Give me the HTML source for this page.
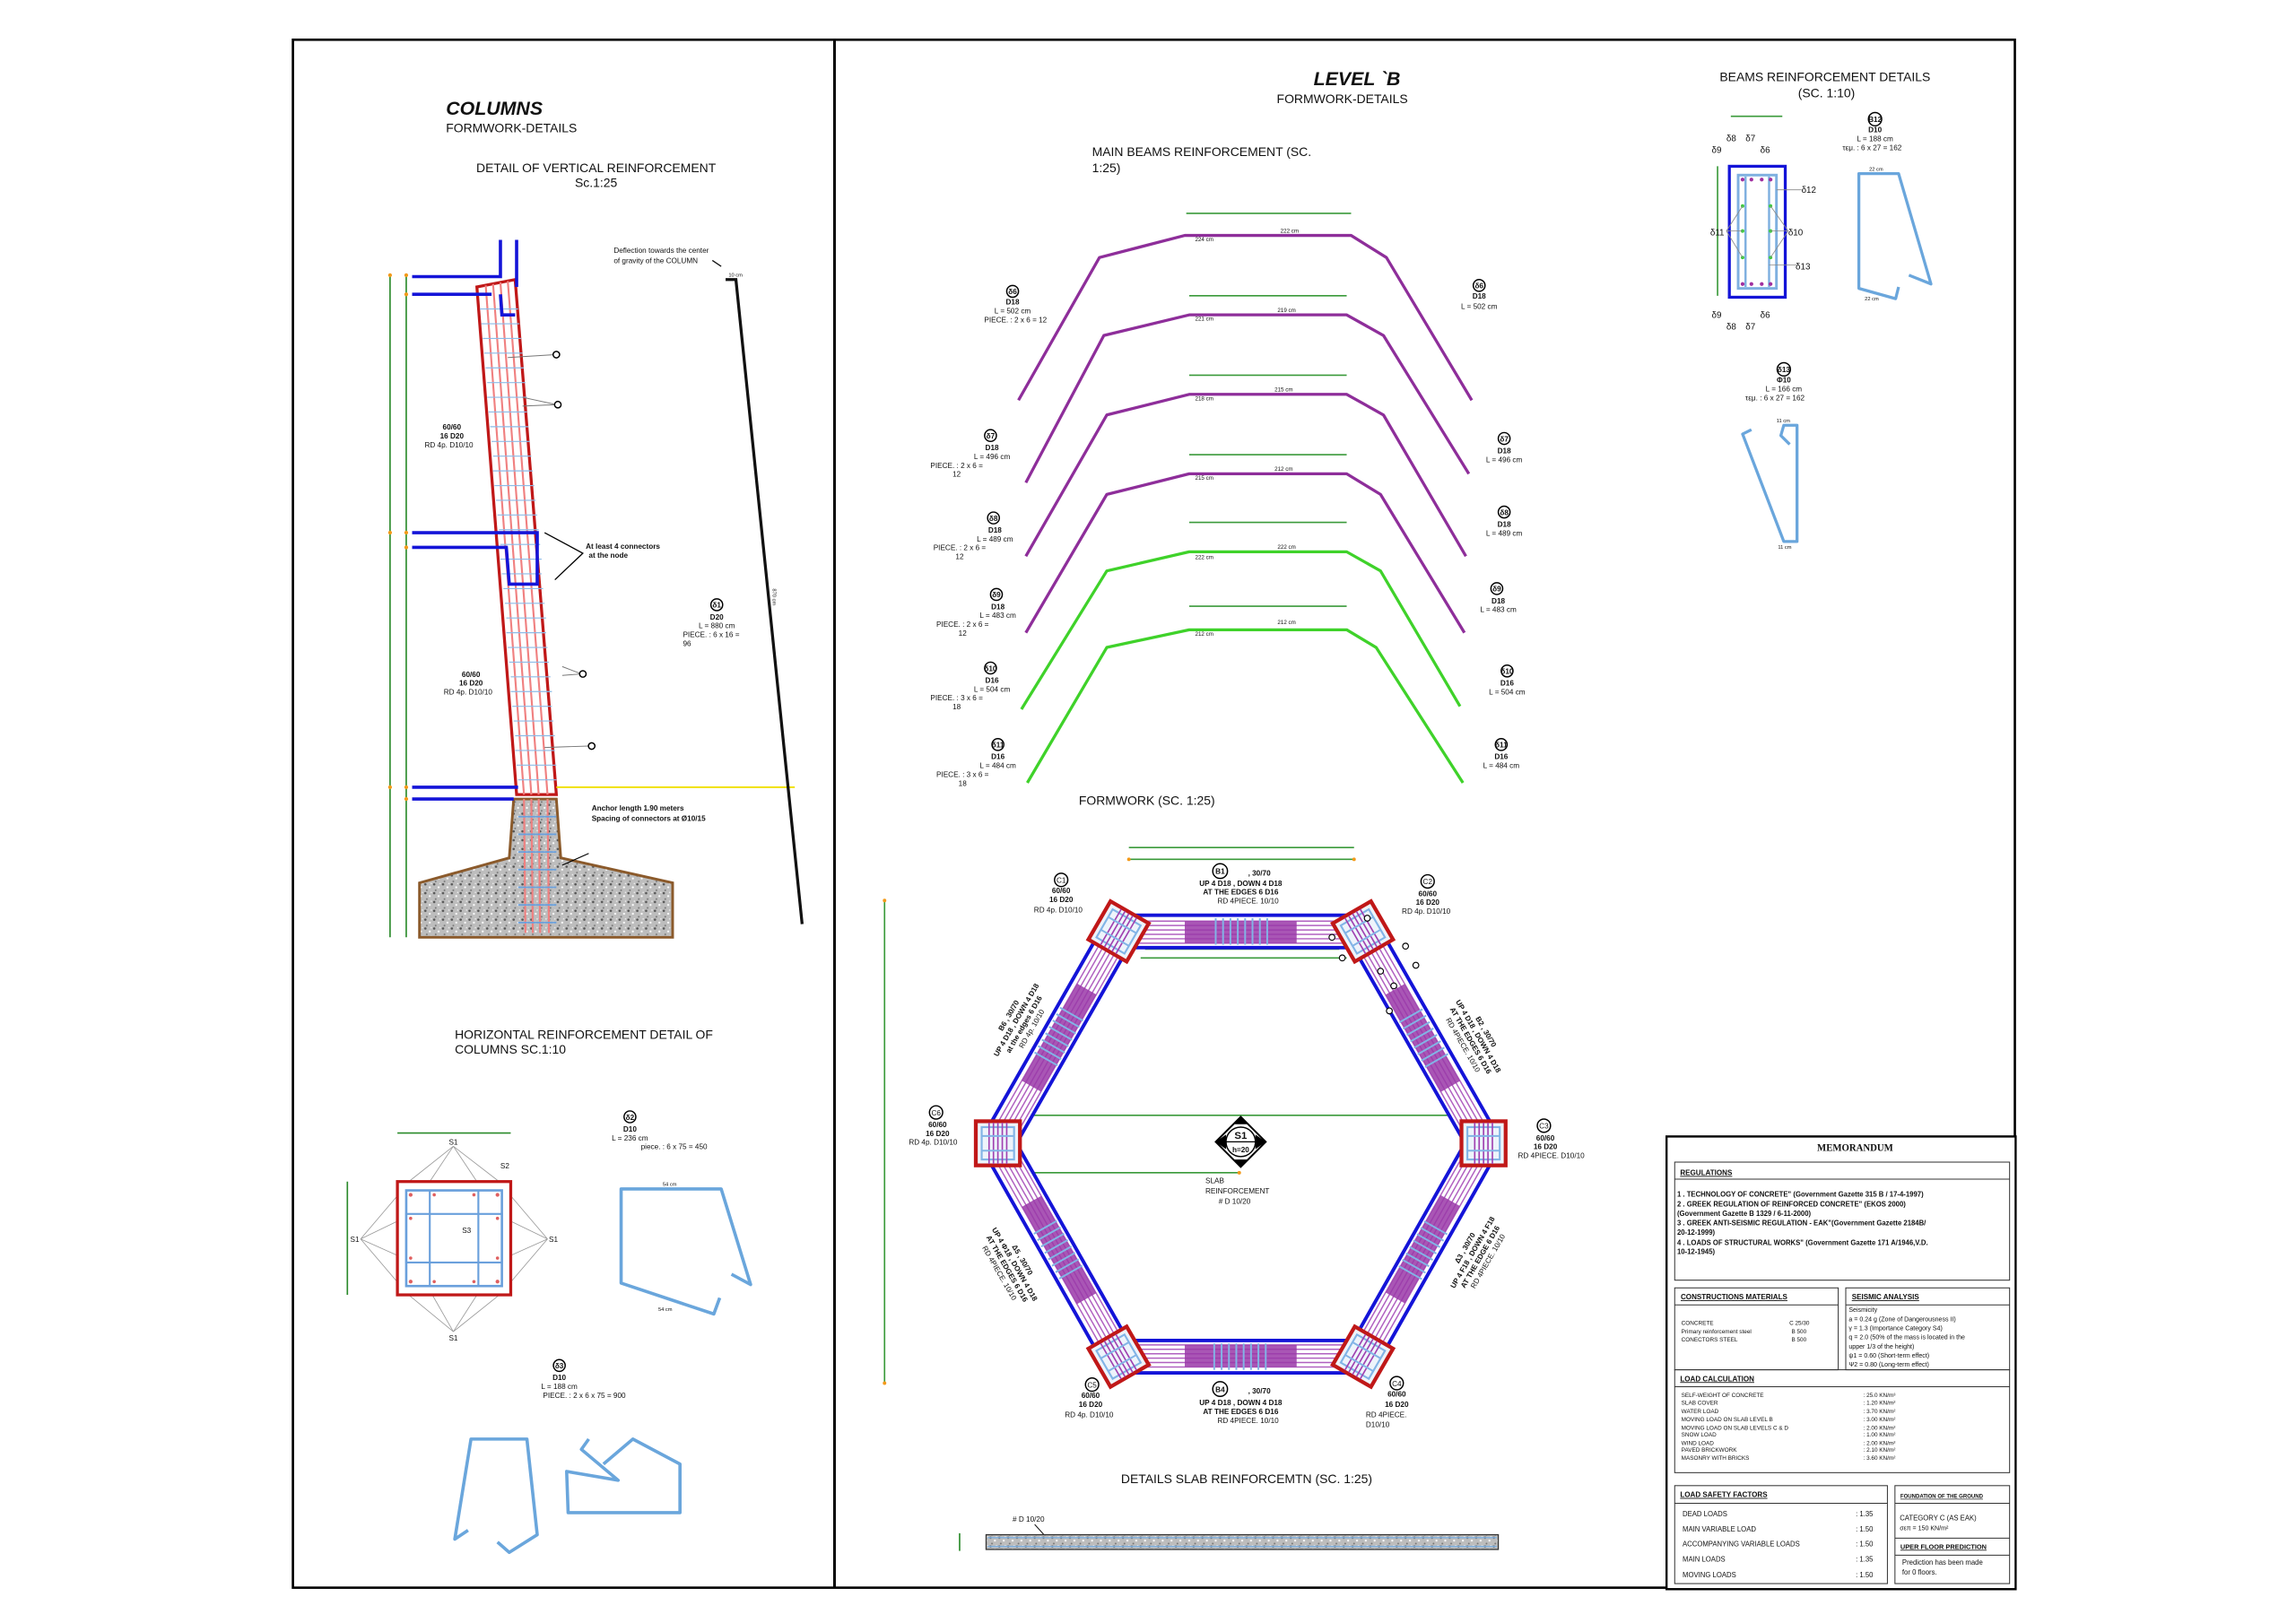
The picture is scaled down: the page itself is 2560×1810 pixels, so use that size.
<!DOCTYPE html>
<html><head><meta charset="utf-8"><style>
html,body{margin:0;padding:0;background:#fff}
svg{display:block}
text{font-family:"Liberation Sans","DejaVu Sans",sans-serif;fill:#111}
.b{font-weight:bold}
.s{font-size:5px}
.m{font-size:6.5px}
.c{text-anchor:middle}
</style></head><body>
<svg width="2560" height="1810" viewBox="0 0 1560 1103" xmlns="http://www.w3.org/2000/svg">
<defs>
<pattern id="gr" width="6" height="6" patternUnits="userSpaceOnUse">
<rect width="6" height="6" fill="#bdbdbd"/><circle cx="1" cy="1" r="0.8" fill="#555"/><circle cx="4" cy="3" r="0.7" fill="#fff"/><circle cx="2" cy="5" r="0.6" fill="#777"/><circle cx="5" cy="0.5" r="0.5" fill="#eee"/>
</pattern>
<g id="band">
<rect x="0" y="-11" width="166" height="22" fill="#fff"/>
<g stroke="#b060c0" stroke-width="0.9"><line x1="0" y1="-7" x2="166" y2="-7"/><line x1="0" y1="-4" x2="166" y2="-4"/><line x1="0" y1="-1" x2="166" y2="-1"/><line x1="0" y1="2" x2="166" y2="2"/><line x1="0" y1="5" x2="166" y2="5"/><line x1="0" y1="8" x2="166" y2="8"/></g>
<rect x="45" y="-7" width="76" height="15" fill="#9a38a8" opacity="0.85"/>
<g stroke="#82b4e6" stroke-width="1.2"><line x1="66" y1="-9" x2="66" y2="9"/><line x1="71" y1="-9" x2="71" y2="9"/><line x1="76" y1="-9" x2="76" y2="9"/><line x1="81" y1="-9" x2="81" y2="9"/><line x1="86" y1="-9" x2="86" y2="9"/><line x1="91" y1="-9" x2="91" y2="9"/><line x1="96" y1="-9" x2="96" y2="9"/><line x1="101" y1="-9" x2="101" y2="9"/></g>
<line x1="0" y1="-11" x2="166" y2="-11" stroke="#1414d8" stroke-width="2.4"/>
<line x1="0" y1="11" x2="166" y2="11" stroke="#1414d8" stroke-width="2.4"/>
</g>
<g id="col">
<rect x="-15" y="-15" width="30" height="30" fill="#eef4fb" stroke="#c01818" stroke-width="2.6"/>
<rect x="-11" y="-11" width="22" height="22" fill="none" stroke="#82b4e6" stroke-width="1.3"/>
<g stroke="#a040b0" stroke-width="1"><line x1="-6" y1="-14" x2="-6" y2="14"/><line x1="-3" y1="-14" x2="-3" y2="14"/><line x1="0" y1="-14" x2="0" y2="14"/><line x1="3" y1="-14" x2="3" y2="14"/><line x1="6" y1="-14" x2="6" y2="14"/></g>
<g stroke="#82b4e6" stroke-width="1.2"><line x1="-11" y1="-5" x2="11" y2="-5"/><line x1="-11" y1="5" x2="11" y2="5"/></g>
</g>
</defs>

<!-- frame -->
<rect x="199" y="27" width="1170" height="1052" fill="none" stroke="#000" stroke-width="1.6"/>
<line x1="567" y1="27" x2="567" y2="1079" stroke="#000" stroke-width="1.8"/>

<!-- ============ COLUMNS PANEL ============ -->
<text x="303" y="78" class="b" style="font-size:13px;font-style:italic">COLUMNS</text>
<text x="303" y="90" style="font-size:8.5px">FORMWORK-DETAILS</text>
<text x="405" y="117" class="c" style="font-size:8.5px">DETAIL OF VERTICAL REINFORCEMENT</text>
<text x="405" y="127" class="c" style="font-size:8.5px">Sc.1:25</text>

<!-- green dims -->
<g stroke="#2a8a2a" stroke-width="1"><line x1="265" y1="187" x2="265" y2="637"/><line x1="276" y1="187" x2="276" y2="637"/></g>
<g fill="#f39a1a"><circle cx="265" cy="187" r="1.3"/><circle cx="276" cy="187" r="1.3"/><circle cx="276" cy="200" r="1.3"/><circle cx="265" cy="362" r="1.3"/><circle cx="276" cy="362" r="1.3"/><circle cx="276" cy="372" r="1.3"/><circle cx="265" cy="535" r="1.3"/><circle cx="276" cy="535" r="1.3"/><circle cx="276" cy="543" r="1.3"/></g>

<!-- footing -->
<polygon points="349,543 378,543 381,583 457,600 457,637 285,637 285,600 346,583" fill="url(#gr)" stroke="#8b5a2b" stroke-width="1.8"/>
<!-- column strip -->
<polygon points="324,195 350,190 378,540 351,540" fill="#fff" stroke="#c01818" stroke-width="2"/>
<g stroke="#f08080" stroke-width="1.3"><line x1="330" y1="194" x2="356" y2="540"/><line x1="335" y1="193" x2="361" y2="540"/><line x1="340" y1="192" x2="366" y2="540"/><line x1="345" y1="191" x2="372" y2="540"/>
<line x1="356" y1="543" x2="357" y2="634"/><line x1="361" y1="543" x2="362" y2="634"/><line x1="366" y1="543" x2="367" y2="634"/><line x1="372" y1="543" x2="373" y2="634"/></g>
<g stroke="#8cbbe8" stroke-width="0.7" id="ties">
<line x1="326" y1="210" x2="352" y2="210"/><line x1="327" y1="220" x2="353" y2="220"/><line x1="328" y1="230" x2="354" y2="230"/><line x1="329" y1="240" x2="355" y2="240"/><line x1="330" y1="250" x2="356" y2="250"/><line x1="331" y1="260" x2="357" y2="260"/><line x1="331" y1="270" x2="358" y2="270"/><line x1="332" y1="280" x2="358" y2="280"/><line x1="333" y1="290" x2="359" y2="290"/><line x1="334" y1="300" x2="360" y2="300"/><line x1="335" y1="310" x2="361" y2="310"/><line x1="335" y1="320" x2="362" y2="320"/><line x1="336" y1="330" x2="363" y2="330"/><line x1="337" y1="340" x2="364" y2="340"/><line x1="338" y1="350" x2="365" y2="350"/><line x1="339" y1="360" x2="366" y2="360"/><line x1="340" y1="370" x2="367" y2="370"/><line x1="340" y1="380" x2="368" y2="380"/><line x1="341" y1="390" x2="368" y2="390"/><line x1="342" y1="400" x2="369" y2="400"/><line x1="343" y1="410" x2="370" y2="410"/><line x1="344" y1="420" x2="371" y2="420"/><line x1="344" y1="430" x2="371" y2="430"/><line x1="345" y1="440" x2="372" y2="440"/><line x1="346" y1="450" x2="373" y2="450"/><line x1="347" y1="460" x2="374" y2="460"/><line x1="347" y1="470" x2="375" y2="470"/><line x1="348" y1="480" x2="375" y2="480"/><line x1="349" y1="490" x2="376" y2="490"/><line x1="350" y1="500" x2="377" y2="500"/><line x1="350" y1="510" x2="377" y2="510"/><line x1="351" y1="520" x2="378" y2="520"/><line x1="352" y1="530" x2="378" y2="530"/>
</g>
<g stroke="#6aa0dc" stroke-width="1.1"><line x1="352" y1="555" x2="378" y2="555"/><line x1="352" y1="567" x2="378" y2="567"/><line x1="352" y1="579" x2="378" y2="579"/><line x1="352" y1="591" x2="378" y2="591"/><line x1="352" y1="603" x2="378" y2="603"/><line x1="352" y1="615" x2="378" y2="615"/><line x1="352" y1="627" x2="378" y2="627"/></g>
<!-- blue beams -->
<g stroke="#1414d8" stroke-width="2.2" fill="none">
<polyline points="280,188 340,188 340,163"/><line x1="351" y1="163" x2="351" y2="195"/>
<polyline points="280,200 334,200"/><polyline points="340,200 341,214 350,214"/>
<polyline points="280,362 365,362 365,397 346,397 344,372 280,372"/>
<line x1="280" y1="535" x2="352" y2="535"/><line x1="280" y1="543" x2="349" y2="543"/>
</g>
<line x1="378" y1="535" x2="540" y2="535" stroke="#f0e000" stroke-width="1.2"/>
<!-- black bar -->
<polyline points="493,190 500,190 545,628" fill="none" stroke="#111" stroke-width="2"/>
<line x1="490" y1="181" x2="484" y2="177" stroke="#111" stroke-width="0.8"/>
<text x="495" y="188" style="font-size:3.5px">10 cm</text>
<text x="525" y="400" transform="rotate(90 525 400)" style="font-size:3.5px">870 cm</text>
<text x="417" y="172" style="font-size:5px">Deflection towards the center</text>
<text x="417" y="179" style="font-size:5px">of gravity of the COLUMN</text>
<!-- callouts -->
<g stroke="#777" stroke-width="0.6" fill="none"><line x1="345" y1="243" x2="377" y2="241"/><line x1="355" y1="276" x2="378" y2="275"/><line x1="355" y1="270" x2="378" y2="275"/><line x1="382" y1="459" x2="395" y2="458"/><line x1="382" y1="453" x2="395" y2="458"/><line x1="370" y1="508" x2="400" y2="507"/></g>
<g fill="#fff" stroke="#000" stroke-width="0.9"><circle cx="378" cy="241" r="2.2"/><circle cx="379" cy="275" r="2.2"/><circle cx="396" cy="458" r="2.2"/><circle cx="402" cy="507" r="2.2"/></g>
<polyline points="370,362 396,376 377,394" fill="none" stroke="#000" stroke-width="0.8"/>
<text x="398" y="373" class="b" style="font-size:5px">At least 4 connectors</text>
<text x="400" y="379" class="b" style="font-size:5px">at the node</text>
<text x="307" y="292" class="c b s">60/60</text><text x="307" y="298" class="c b s">16 D20</text><text x="305" y="304" class="c s">RD 4p. D10/10</text>
<text x="320" y="460" class="c b s">60/60</text><text x="320" y="466" class="c b s">16 D20</text><text x="318" y="472" class="c s">RD 4p. D10/10</text>
<circle cx="487" cy="411" r="4" fill="none" stroke="#000" stroke-width="0.9"/><text x="487" y="413" class="c s b">δ1</text>
<text x="487" y="421" class="c b s">D20</text><text x="487" y="427" class="c s">L = 880 cm</text><text x="464" y="433" class="s">PIECE. : 6 x 16 =</text><text x="464" y="439" class="s">96</text>
<text x="402" y="551" class="b" style="font-size:5px">Anchor length 1.90 meters</text>
<text x="402" y="558" class="b" style="font-size:5px">Spacing of connectors at Ø10/15</text>
<line x1="400" y1="580" x2="382" y2="588" stroke="#000" stroke-width="0.7"/>

<!-- horizontal reinforcement -->
<text x="309" y="706" style="font-size:8.5px">HORIZONTAL REINFORCEMENT DETAIL OF</text>
<text x="309" y="716" style="font-size:8.5px">COLUMNS SC.1:10</text>
<line x1="270" y1="770" x2="347" y2="770" stroke="#2a8a2a" stroke-width="1"/>
<line x1="236" y1="803" x2="236" y2="880" stroke="#2a8a2a" stroke-width="1"/>
<g stroke="#999" stroke-width="0.5"><line x1="308" y1="779" x2="274" y2="806"/><line x1="308" y1="779" x2="290" y2="806"/><line x1="308" y1="779" x2="326" y2="806"/><line x1="308" y1="779" x2="343" y2="806"/><line x1="308" y1="905" x2="274" y2="877"/><line x1="308" y1="905" x2="292" y2="877"/><line x1="308" y1="905" x2="326" y2="877"/><line x1="308" y1="905" x2="343" y2="877"/><line x1="245" y1="842" x2="274" y2="808"/><line x1="245" y1="842" x2="274" y2="828"/><line x1="245" y1="842" x2="274" y2="855"/><line x1="245" y1="842" x2="274" y2="876"/><line x1="372" y1="842" x2="343" y2="808"/><line x1="372" y1="842" x2="343" y2="828"/><line x1="372" y1="842" x2="343" y2="855"/><line x1="372" y1="842" x2="343" y2="876"/></g>
<rect x="270" y="803" width="77" height="77" fill="#fff" stroke="#c01818" stroke-width="2"/>
<rect x="276" y="809" width="65" height="65" fill="none" stroke="#6aa0dc" stroke-width="1.6"/>
<rect x="292" y="809" width="33" height="65" fill="none" stroke="#6aa0dc" stroke-width="1.3"/>
<rect x="276" y="825" width="65" height="33" fill="none" stroke="#6aa0dc" stroke-width="1.3"/>
<g fill="#e06060"><circle cx="279" cy="812" r="1.3"/><circle cx="338" cy="812" r="1.3"/><circle cx="279" cy="871" r="1.3"/><circle cx="338" cy="871" r="1.3"/><circle cx="295" cy="812" r="1.1"/><circle cx="322" cy="812" r="1.1"/><circle cx="295" cy="871" r="1.1"/><circle cx="322" cy="871" r="1.1"/><circle cx="279" cy="828" r="1.1"/><circle cx="279" cy="855" r="1.1"/><circle cx="338" cy="828" r="1.1"/><circle cx="338" cy="855" r="1.1"/></g>
<text x="308" y="778" class="c s">S1</text><text x="308" y="911" class="c s">S1</text><text x="241" y="844" class="c s">S1</text><text x="376" y="844" class="c s">S1</text><text x="343" y="794" class="c s">S2</text><text x="317" y="838" class="c s">S3</text>
<circle cx="428" cy="759" r="4" fill="none" stroke="#000" stroke-width="0.9"/><text x="428" y="761" class="c s b">δ2</text>
<text x="428" y="769" class="c b s">D10</text><text x="428" y="775" class="c s">L = 236 cm</text><text x="458" y="781" class="c s">piece. : 6 x 75 = 450</text>
<path d="M497,866 L510,873 L490,808 L422,808 L422,872 L485,893 L489,882" fill="none" stroke="#6aa6dc" stroke-width="2.2" stroke-linejoin="round"/>
<text x="455" y="806" class="c" style="font-size:3.5px">54 cm</text><text x="452" y="891" class="c" style="font-size:3.5px">54 cm</text>
<circle cx="380" cy="928" r="4" fill="none" stroke="#000" stroke-width="0.9"/><text x="380" y="930" class="c s b">δ3</text>
<text x="380" y="938" class="c b s">D10</text><text x="380" y="944" class="c s">L = 188 cm</text><text x="397" y="950" class="c s">PIECE. : 2 x 6 x 75 = 900</text>
<path d="M318,1040 L309,1046 L320,978 L358,978 L365,1043 L346,1055 L338,1048" fill="none" stroke="#6aa6dc" stroke-width="2.2" stroke-linejoin="round"/>
<path d="M400,978 L395,985 L420,1006 L385,1000 L386,1028 L462,1028 L462,995 L430,978 L410,995" fill="none" stroke="#6aa6dc" stroke-width="2.2" stroke-linejoin="round"/>

<!-- ============ LEVEL B ============ -->
<text x="922" y="58" class="c b" style="font-size:13px;font-style:italic">LEVEL `B</text>
<text x="912" y="70" class="c" style="font-size:8.5px">FORMWORK-DETAILS</text>
<text x="742" y="106" style="font-size:8.5px">MAIN BEAMS REINFORCEMENT (SC.</text>
<text x="742" y="117" style="font-size:8.5px">1:25)</text>

<g fill="none" stroke-width="2" stroke-linejoin="round">
<polyline stroke="#8e2e9a" points="692,272 747,175 805,160 918,160 942,175 1000,272"/>
<polyline stroke="#8e2e9a" points="697,328 750,228 808,214 915,214 940,228 998,322"/>
<polyline stroke="#8e2e9a" points="697,378 752,282 808,268 915,268 940,282 996,378"/>
<polyline stroke="#8e2e9a" points="697,430 752,336 808,322 915,322 938,336 995,430"/>
<polyline stroke="#3fd22a" points="694,482 752,388 808,375 915,375 938,388 992,480"/>
<polyline stroke="#3fd22a" points="698,532 752,440 808,428 915,428 935,440 994,532"/>
</g>
<g stroke-width="1"><line x1="806" y1="145" x2="918" y2="145" stroke="#3a9a3a"/><line x1="808" y1="201" x2="915" y2="201" stroke="#3a9a3a"/><line x1="808" y1="255" x2="915" y2="255" stroke="#3a9a3a"/><line x1="808" y1="309" x2="915" y2="309" stroke="#3a9a3a"/><line x1="808" y1="355" x2="915" y2="355" stroke="#3a9a3a"/><line x1="808" y1="412" x2="915" y2="412" stroke="#3a9a3a"/></g>
<g style="font-size:3.8px"><text x="812" y="164">224 cm</text><text x="870" y="158">222 cm</text><text x="812" y="218">221 cm</text><text x="868" y="212">219 cm</text><text x="812" y="272">218 cm</text><text x="866" y="266">215 cm</text><text x="812" y="326">215 cm</text><text x="866" y="320">212 cm</text><text x="812" y="380">222 cm</text><text x="868" y="373">222 cm</text><text x="812" y="432">212 cm</text><text x="868" y="424">212 cm</text></g>
<g class="c">
<circle cx="688" cy="198" r="4" fill="none" stroke="#000" stroke-width="0.9"/><text x="688" y="200" class="c s b">δ6</text><text x="688" y="207" class="c b s">D18</text><text x="688" y="213" class="c s">L = 502 cm</text><text x="690" y="219" class="c s">PIECE. : 2 x 6 = 12</text>
<circle cx="1005" cy="194" r="4" fill="none" stroke="#000" stroke-width="0.9"/><text x="1005" y="196" class="c s b">δ6</text><text x="1005" y="203" class="c b s">D18</text><text x="1005" y="210" class="c s">L = 502 cm</text>
<circle cx="673" cy="296" r="4" fill="none" stroke="#000" stroke-width="0.9"/><text x="673" y="298" class="c s b">δ7</text><text x="674" y="306" class="c b s">D18</text><text x="674" y="312" class="c s">L = 496 cm</text><text x="650" y="318" class="s">PIECE. : 2 x 6 =</text><text x="650" y="324" class="s">12</text>
<circle cx="1022" cy="298" r="4" fill="none" stroke="#000" stroke-width="0.9"/><text x="1022" y="300" class="c s b">δ7</text><text x="1022" y="308" class="c b s">D18</text><text x="1022" y="314" class="c s">L = 496 cm</text>
<circle cx="675" cy="352" r="4" fill="none" stroke="#000" stroke-width="0.9"/><text x="675" y="354" class="c s b">δ8</text><text x="676" y="362" class="c b s">D18</text><text x="676" y="368" class="c s">L = 489 cm</text><text x="652" y="374" class="s">PIECE. : 2 x 6 =</text><text x="652" y="380" class="s">12</text>
<circle cx="1022" cy="348" r="4" fill="none" stroke="#000" stroke-width="0.9"/><text x="1022" y="350" class="c s b">δ8</text><text x="1022" y="358" class="c b s">D18</text><text x="1022" y="364" class="c s">L = 489 cm</text>
<circle cx="677" cy="404" r="4" fill="none" stroke="#000" stroke-width="0.9"/><text x="677" y="406" class="c s b">δ9</text><text x="678" y="414" class="c b s">D18</text><text x="678" y="420" class="c s">L = 483 cm</text><text x="654" y="426" class="s">PIECE. : 2 x 6 =</text><text x="654" y="432" class="s">12</text>
<circle cx="1017" cy="400" r="4" fill="none" stroke="#000" stroke-width="0.9"/><text x="1017" y="402" class="c s b">δ9</text><text x="1018" y="410" class="c b s">D18</text><text x="1018" y="416" class="c s">L = 483 cm</text>
<circle cx="673" cy="454" r="4" fill="none" stroke="#000" stroke-width="0.9"/><text x="673" y="456" class="c s b">δ10</text><text x="674" y="464" class="c b s">D16</text><text x="674" y="470" class="c s">L = 504 cm</text><text x="650" y="476" class="s">PIECE. : 3 x 6 =</text><text x="650" y="482" class="s">18</text>
<circle cx="1024" cy="456" r="4" fill="none" stroke="#000" stroke-width="0.9"/><text x="1024" y="458" class="c s b">δ10</text><text x="1024" y="466" class="c b s">D16</text><text x="1024" y="472" class="c s">L = 504 cm</text>
<circle cx="678" cy="506" r="4" fill="none" stroke="#000" stroke-width="0.9"/><text x="678" y="508" class="c s b">δ11</text><text x="678" y="516" class="c b s">D16</text><text x="678" y="522" class="c s">L = 484 cm</text><text x="654" y="528" class="s">PIECE. : 3 x 6 =</text><text x="654" y="534" class="s">18</text>
<circle cx="1020" cy="506" r="4" fill="none" stroke="#000" stroke-width="0.9"/><text x="1020" y="508" class="c s b">δ11</text><text x="1020" y="516" class="c b s">D16</text><text x="1020" y="522" class="c s">L = 484 cm</text>
</g>

<!-- FORMWORK -->
<text x="733" y="547" style="font-size:8.5px">FORMWORK (SC. 1:25)</text>
<g stroke="#3a9a3a" stroke-width="1"><line x1="767" y1="576" x2="920" y2="576"/><line x1="767" y1="584" x2="920" y2="584"/><line x1="778" y1="645" x2="910" y2="645"/><line x1="775" y1="651" x2="915" y2="651"/><line x1="689" y1="758" x2="1000" y2="758"/><line x1="689" y1="797" x2="842" y2="797"/><line x1="601" y1="612" x2="601" y2="940"/></g>
<g fill="#f39a1a"><circle cx="767" cy="584" r="1.2"/><circle cx="920" cy="584" r="1.2"/><circle cx="689" cy="758" r="1.2"/><circle cx="1000" cy="758" r="1.2"/><circle cx="689" cy="797" r="1.2"/><circle cx="842" cy="797" r="1.2"/><circle cx="601" cy="612" r="1.2"/><circle cx="601" cy="940" r="1.2"/></g>
<use href="#band" transform="translate(760,633)"/>
<use href="#band" transform="translate(926,633) rotate(60.3)"/>
<use href="#band" transform="translate(1008,777) rotate(119.5)"/>
<use href="#band" transform="translate(926,922) rotate(180)"/>
<use href="#band" transform="translate(760,922) rotate(240.5)"/>
<use href="#band" transform="translate(678,777) rotate(-60.3)"/>
<use href="#col" transform="translate(760,633) rotate(30)"/>
<use href="#col" transform="translate(926,633) rotate(-30)"/>
<use href="#col" transform="translate(1008,777)"/>
<use href="#col" transform="translate(926,922) rotate(30)"/>
<use href="#col" transform="translate(760,922) rotate(-30)"/>
<use href="#col" transform="translate(678,777)"/>
<g fill="#fff" stroke="#000" stroke-width="0.7"><circle cx="929" cy="624" r="2"/><circle cx="905" cy="637" r="2"/><circle cx="912" cy="651" r="2"/><circle cx="955" cy="643" r="2"/><circle cx="962" cy="656" r="2"/><circle cx="938" cy="660" r="2"/><circle cx="947" cy="670" r="2"/><circle cx="944" cy="687" r="2"/></g>
<!-- S1 -->
<g transform="translate(843,776)"><polygon points="0,-17 17,0 0,17 -17,0" fill="#fff" stroke="#000" stroke-width="1.2"/><circle r="10" fill="#fff" stroke="#000" stroke-width="0.9"/><line x1="-10" y1="0" x2="10" y2="0" stroke="#000" stroke-width="0.8"/><polygon points="-17,0 -10,-5 -10,5" fill="#000"/><polygon points="17,0 10,-5 10,5" fill="#000"/><polygon points="0,-17 -5,-12 5,-12" fill="#000"/><polygon points="0,17 -5,12 5,12" fill="#000"/><text x="0" y="-2" class="c b" style="font-size:7px">S1</text><text x="0" y="7" class="c b" style="font-size:5px">h=20</text></g>
<text x="819" y="804" class="s">SLAB</text><text x="819" y="811" class="s">REINFORCEMENT</text><text x="828" y="818" class="s"># D 10/20</text>
<!-- column labels -->
<g>
<circle cx="721" cy="598" r="4.5" fill="none" stroke="#000" stroke-width="0.9"/><text x="721" y="600" class="c s">C1</text><text x="721" y="607" class="c b s">60/60</text><text x="721" y="613" class="c b s">16 D20</text><text x="719" y="620" class="c s">RD 4p. D10/10</text>
<circle cx="970" cy="599" r="4.5" fill="none" stroke="#000" stroke-width="0.9"/><text x="970" y="601" class="c s">C2</text><text x="970" y="609" class="c b s">60/60</text><text x="970" y="615" class="c b s">16 D20</text><text x="969" y="621" class="c s">RD 4p. D10/10</text>
<circle cx="1049" cy="765" r="4.5" fill="none" stroke="#000" stroke-width="0.9"/><text x="1049" y="767" class="c s">C3</text><text x="1050" y="775" class="c b s">60/60</text><text x="1050" y="781" class="c b s">16 D20</text><text x="1054" y="787" class="c s">RD 4PIECE. D10/10</text>
<circle cx="636" cy="756" r="4.5" fill="none" stroke="#000" stroke-width="0.9"/><text x="636" y="758" class="c s">C6</text><text x="637" y="766" class="c b s">60/60</text><text x="637" y="772" class="c b s">16 D20</text><text x="634" y="778" class="c s">RD 4p. D10/10</text>
<circle cx="742" cy="941" r="4.5" fill="none" stroke="#000" stroke-width="0.9"/><text x="742" y="943" class="c s">C5</text><text x="741" y="950" class="c b s">60/60</text><text x="741" y="956" class="c b s">16 D20</text><text x="740" y="963" class="c s">RD 4p. D10/10</text>
<circle cx="949" cy="940" r="4.5" fill="none" stroke="#000" stroke-width="0.9"/><text x="949" y="942" class="c s">C4</text><text x="949" y="949" class="c b s">60/60</text><text x="949" y="956" class="c b s">16 D20</text><text x="928" y="963" class="s">RD 4PIECE.</text><text x="928" y="970" class="s">D10/10</text>
<circle cx="829" cy="592" r="5" fill="none" stroke="#000" stroke-width="0.9"/><text x="829" y="594" class="c s b">B1</text><text x="848" y="595" class="b s">, 30/70</text><text x="843" y="602" class="c b s">UP 4 D18 , DOWN 4 D18</text><text x="843" y="608" class="c b s">AT THE EDGES 6 D16</text><text x="848" y="614" class="c s">RD 4PIECE. 10/10</text>
<circle cx="829" cy="944" r="5" fill="none" stroke="#000" stroke-width="0.9"/><text x="829" y="946" class="c s b">B4</text><text x="848" y="947" class="b s">, 30/70</text><text x="843" y="955" class="c b s">UP 4 D18 , DOWN 4 D18</text><text x="843" y="961" class="c b s">AT THE EDGES 6 D16</text><text x="848" y="967" class="c s">RD 4PIECE. 10/10</text>
</g>
<g transform="translate(692,694) rotate(-60)"><text x="0" y="-6" class="c b s">Β6 , 30/70</text><text x="0" y="0" class="c b s">UP 4 D18 , DOWN 4 D18</text><text x="0" y="6" class="c b s">at the edges 6 D16</text><text x="0" y="12" class="c s">RD 4p. 10/10</text></g>
<g transform="translate(1003,705) rotate(60)"><text x="0" y="-6" class="c b s">Β2 , 30/70</text><text x="0" y="0" class="c b s">UP 4 D18 , DOWN 4 D18</text><text x="0" y="6" class="c b s">AT THE EDGES 6 D16</text><text x="0" y="12" class="c s">RD 4PIECE. 10/10</text></g>
<g transform="translate(688,860) rotate(60)"><text x="0" y="-6" class="c b s">Δ5 , 30/70</text><text x="0" y="0" class="c b s">UP 4 Φ18 , DOWN 4 D18</text><text x="0" y="6" class="c b s">AT THE EDGES 6 D16</text><text x="0" y="12" class="c s">RD 4PIECE. 10/10</text></g>
<g transform="translate(1002,852) rotate(-60)"><text x="0" y="-6" class="c b s">Δ3 , 30/70</text><text x="0" y="0" class="c b s">UP 4 F18 , DOWN 4 F18</text><text x="0" y="6" class="c b s">AT THE EDGE 6 D16</text><text x="0" y="12" class="c s">RD 4PIECE. 10/10</text></g>

<!-- slab detail -->
<text x="847" y="1008" class="c" style="font-size:8.5px">DETAILS SLAB REINFORCEMTN (SC. 1:25)</text>
<text x="688" y="1034" class="s"># D 10/20</text>
<line x1="703" y1="1036" x2="712" y2="1046" stroke="#000" stroke-width="0.6"/>
<rect x="670" y="1043" width="348" height="10" fill="url(#gr)" stroke="#333" stroke-width="0.8"/>
<line x1="671" y1="1045" x2="1017" y2="1045" stroke="#7fb0e0" stroke-width="0.9"/><line x1="671" y1="1051" x2="1017" y2="1051" stroke="#7fb0e0" stroke-width="0.9"/>
<line x1="652" y1="1042" x2="652" y2="1054" stroke="#2a8a2a" stroke-width="1"/>

<!-- BEAMS REINFORCEMENT DETAILS -->
<text x="1240" y="55" class="c" style="font-size:8.5px">BEAMS  REINFORCEMENT DETAILS</text>
<text x="1241" y="66" class="c" style="font-size:8.5px">(SC. 1:10)</text>
<line x1="1176" y1="79" x2="1211" y2="79" stroke="#3a9a3a" stroke-width="1"/>
<line x1="1167" y1="113" x2="1167" y2="201" stroke="#3a9a3a" stroke-width="1"/>
<rect x="1175" y="113" width="38" height="89" fill="#fff" stroke="#1414d8" stroke-width="2"/>
<rect x="1181" y="119" width="26" height="77" fill="none" stroke="#7fb0e0" stroke-width="1.8"/>
<line x1="1186" y1="120" x2="1186" y2="195" stroke="#7fb0e0" stroke-width="1.5"/><line x1="1202" y1="120" x2="1202" y2="195" stroke="#7fb0e0" stroke-width="1.5"/>
<g fill="#a030a0"><circle cx="1184" cy="122" r="1.3"/><circle cx="1190" cy="122" r="1.3"/><circle cx="1197" cy="122" r="1.3"/><circle cx="1203" cy="122" r="1.3"/><circle cx="1184" cy="193" r="1.3"/><circle cx="1190" cy="193" r="1.3"/><circle cx="1197" cy="193" r="1.3"/><circle cx="1203" cy="193" r="1.3"/></g>
<g fill="#3ecc3e"><circle cx="1184" cy="140" r="1.2"/><circle cx="1184" cy="157" r="1.2"/><circle cx="1184" cy="175" r="1.2"/><circle cx="1203" cy="140" r="1.2"/><circle cx="1203" cy="157" r="1.2"/><circle cx="1203" cy="175" r="1.2"/></g>
<g stroke="#888" stroke-width="0.5"><line x1="1173" y1="157" x2="1184" y2="140"/><line x1="1173" y1="157" x2="1184" y2="157"/><line x1="1173" y1="157" x2="1184" y2="175"/><line x1="1215" y1="157" x2="1203" y2="140"/><line x1="1215" y1="157" x2="1203" y2="157"/><line x1="1215" y1="157" x2="1203" y2="175"/><line x1="1207" y1="129" x2="1224" y2="129"/><line x1="1202" y1="180" x2="1221" y2="180"/></g>
<g style="font-size:6px"><text x="1173" y="96">δ8</text><text x="1186" y="96">δ7</text><text x="1163" y="104">δ9</text><text x="1196" y="104">δ6</text><text x="1162" y="160">δ11</text><text x="1215" y="160">δ10</text><text x="1224" y="131">δ12</text><text x="1220" y="183">δ13</text><text x="1163" y="216">δ9</text><text x="1196" y="216">δ6</text><text x="1173" y="224">δ8</text><text x="1186" y="224">δ7</text></g>
<circle cx="1274" cy="81" r="4.5" fill="none" stroke="#000" stroke-width="0.9"/><text x="1274" y="83" class="c s b">B12</text>
<text x="1274" y="90" class="c b s">D10</text><text x="1274" y="96" class="c s">L = 188 cm</text><text x="1272" y="102" class="c s">τεμ. : 6 x 27 = 162</text>
<path d="M1297,187 L1312,193 L1290,118 L1263,118 L1263,196 L1288,203 L1290,195" fill="none" stroke="#6aa6dc" stroke-width="2" stroke-linejoin="round"/>
<g style="font-size:3.5px"><text x="1270" y="116">22 cm</text><text x="1267" y="204">22 cm</text></g>
<circle cx="1212" cy="251" r="4.5" fill="none" stroke="#000" stroke-width="0.9"/><text x="1212" y="253" class="c s b">δ13</text>
<text x="1212" y="260" class="c b s">Φ10</text><text x="1212" y="266" class="c s">L = 166 cm</text><text x="1206" y="272" class="c s">τεμ. : 6 x 27 = 162</text>
<path d="M1190,292 L1184,295 L1212,368 L1221,368 L1221,289 L1212,289 L1210,296 L1216,302" fill="none" stroke="#6aa6dc" stroke-width="2" stroke-linejoin="round"/>
<g style="font-size:3.5px"><text x="1207" y="287">11 cm</text><text x="1208" y="373">11 cm</text></g>

<!-- MEMORANDUM (drawn in zoom coords) -->
<g transform="translate(1102,765) scale(0.205,0.21)">
<rect x="148" y="35" width="1157" height="1465" fill="#fff" stroke="#000" stroke-width="7"/>
<text x="773" y="82" class="c b" style="font-size:32px;font-family:'Liberation Serif','DejaVu Serif',serif">MEMORANDUM</text>
<g fill="none" stroke="#333" stroke-width="3">
<rect x="175" y="118" width="1110" height="382"/><line x1="175" y1="173" x2="1285" y2="173"/>
<rect x="175" y="525" width="542" height="265"/><line x1="175" y1="580" x2="717" y2="580"/>
<rect x="742" y="525" width="543" height="265"/><line x1="742" y1="580" x2="1285" y2="580"/>
<rect x="175" y="790" width="1110" height="333"/><line x1="175" y1="845" x2="1285" y2="845"/>
<rect x="175" y="1165" width="705" height="317"/><line x1="175" y1="1222" x2="880" y2="1222"/>
<rect x="905" y="1165" width="380" height="317"/><line x1="905" y1="1222" x2="1285" y2="1222"/><line x1="905" y1="1335" x2="1285" y2="1335"/><line x1="905" y1="1390" x2="1285" y2="1390"/>
</g>
<g class="b" style="font-size:24px;text-decoration:underline">
<text x="193" y="160">REGULATIONS</text><text x="195" y="562">CONSTRUCTIONS MATERIALS</text><text x="762" y="562">SEISMIC ANALYSIS</text><text x="193" y="827">LOAD CALCULATION</text><text x="193" y="1202">LOAD SAFETY FACTORS</text>
<text x="923" y="1205" style="font-size:18px">FOUNDATION OF THE GROUND</text><text x="923" y="1370" style="font-size:22px">UPER FLOOR PREDICTION</text>
</g>
<g class="b" style="font-size:23px">
<text x="183" y="230">1 . TECHNOLOGY OF CONCRETE" (Government Gazette 315 B / 17-4-1997)</text>
<text x="183" y="262">2 . GREEK REGULATION OF REINFORCED CONCRETE" (EKOS 2000)</text>
<text x="183" y="292">(Government Gazette B 1329 / 6-11-2000)</text>
<text x="183" y="323">3 . GREEK ANTI-SEISMIC REGULATION - EAK"(Government Gazette 2184B/</text>
<text x="183" y="353">20-12-1999)</text>
<text x="183" y="386">4 . LOADS OF STRUCTURAL WORKS" (Government Gazette 171 A/1946,V.D.</text>
<text x="183" y="416">10-12-1945)</text>
</g>
<g style="font-size:19px;fill:#333">
<text x="197" y="645">CONCRETE</text><text x="555" y="645">C 25/30</text>
<text x="197" y="672">Primary reinforcement steel</text><text x="562" y="672">B 500</text>
<text x="197" y="698">CONECTORS STEEL</text><text x="562" y="698">B 500</text>
</g>
<g style="font-size:21px;fill:#333">
<text x="752" y="603">Seismicity</text><text x="752" y="633">a = 0.24 g (Zone of Dangerousness II)</text><text x="752" y="662">γ = 1.3 (Importance Category S4)</text><text x="752" y="691">q = 2.0 (50% of the mass is located in the</text><text x="752" y="721">upper 1/3 of the height)</text><text x="752" y="750">ψ1 = 0.60 (Short-term effect)</text><text x="752" y="779">Ψ2 = 0.80 (Long-term effect)</text>
</g>
<g style="font-size:19px;fill:#333">
<text x="197" y="878">SELF-WEIGHT OF CONCRETE</text><text x="800" y="878">:  25.0 KN/m³</text>
<text x="197" y="903">SLAB COVER</text><text x="800" y="903">:  1.20 KN/m²</text>
<text x="197" y="930">WATER LOAD</text><text x="800" y="930">:  3.70 KN/m²</text>
<text x="197" y="957">MOVING LOAD ON SLAB LEVEL B</text><text x="800" y="957">:  3.00 KN/m²</text>
<text x="197" y="984">MOVING LOAD ON SLAB LEVELS C &amp; D</text><text x="800" y="984">:  2.00 KN/m²</text>
<text x="197" y="1006">SNOW LOAD</text><text x="800" y="1006">:  1.00 KN/m²</text>
<text x="197" y="1033">WIND LOAD</text><text x="800" y="1033">:  2.00 KN/m²</text>
<text x="197" y="1055">PAVED BRICKWORK</text><text x="800" y="1055">:  2.10 KN/m²</text>
<text x="197" y="1082">MASONRY WITH BRICKS</text><text x="800" y="1082">:  3.60 KN/m²</text>
</g>
<g style="font-size:23px;fill:#444">
<text x="201" y="1264">DEAD LOADS</text><text x="775" y="1264">:  1.35</text>
<text x="201" y="1314">MAIN VARIABLE LOAD</text><text x="775" y="1314">:  1.50</text>
<text x="201" y="1362">ACCOMPANYING VARIABLE LOADS</text><text x="775" y="1362">:  1.50</text>
<text x="201" y="1411">MAIN LOADS</text><text x="775" y="1411">:  1.35</text>
<text x="201" y="1461">MOVING LOADS</text><text x="775" y="1461">:  1.50</text>
<text x="921" y="1277">CATEGORY C (AS EAK)</text><text x="921" y="1309" style="font-size:21px">σεπ = 150  KN/m²</text>
<text x="929" y="1421">Prediction has been made</text><text x="929" y="1453">for 0 floors.</text>
</g>
</g>
</svg>
</body></html>
